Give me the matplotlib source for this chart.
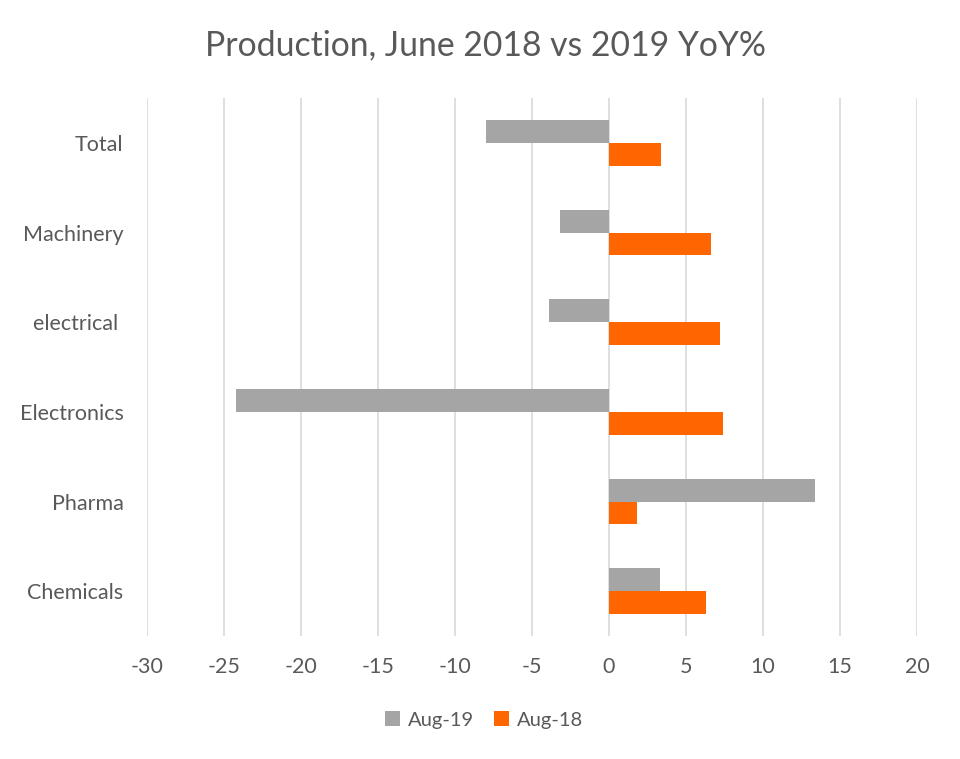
import matplotlib
matplotlib.use("Agg")
import matplotlib.pyplot as plt
import numpy as np

categories = ["Chemicals", "Pharma", "Electronics", "electrical ", "Machinery", "Total"]
aug19 = [3.3, 13.4, -24.2, -3.9, -3.2, -8.0]
aug18 = [6.3, 1.8, 7.4, 7.2, 6.6, 3.4]
xticks = [-30, -25, -20, -15, -10, -5, 0, 5, 10, 15, 20]

plt.rcParams['font.family'] = ['Lato', 'DejaVu Sans']
txt = '#595959'

fig = plt.figure(figsize=(9.6, 7.59), dpi=100)
ax = fig.add_axes([147/960, 1-636/759, (917-147)/960, (636-98)/759])

y = np.arange(len(categories))
h = 0.255
ax.barh(y + h/2, aug19, height=h, color='#A5A5A5', label='Aug-19', zorder=3)
ax.barh(y - h/2, aug18, height=h, color='#FF6600', label='Aug-18', zorder=3)

ax.set_xlim(-30, 20)
ax.set_ylim(-0.5, len(categories) - 0.5)
ax.set_xticks(xticks)
ax.set_xticklabels([str(t) for t in xticks], color=txt, fontsize=15.5)
ax.set_yticks(y)
ax.set_yticklabels(categories, color=txt, fontsize=15.5)
ax.tick_params(axis='both', length=0)
ax.tick_params(axis='x', pad=15)
ax.tick_params(axis='y', pad=17)
ax.grid(axis='x', color='#D9D9D9', linewidth=1.2, zorder=0)
for s in ax.spines.values():
    s.set_visible(False)

fig.text(485/960, 1-45/759, "Production, June 2018 vs 2019 YoY%", ha='center', va='center',
         fontsize=24.3, color=txt)
fig.legend(loc='center', bbox_to_anchor=(484/960, 1-720/759), ncol=2, frameon=False,
           fontsize=14.5, labelcolor=txt, handlelength=0.75, handleheight=0.75,
           handletextpad=0.4, columnspacing=1.0)

fig.savefig("out.png", dpi=100)
